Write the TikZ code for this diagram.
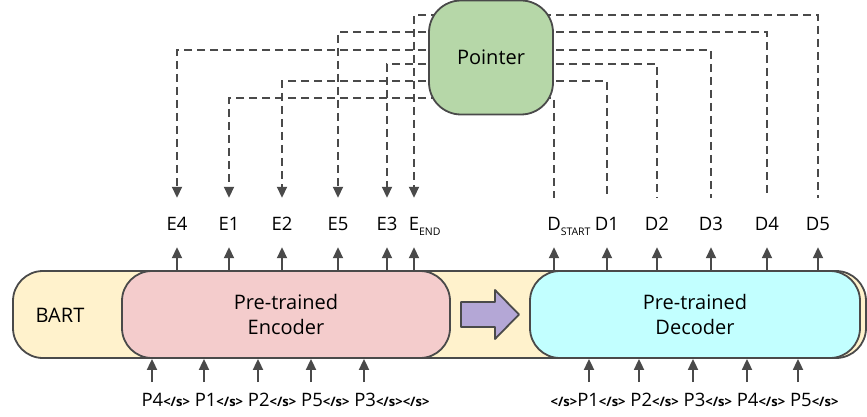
\documentclass[tikz,border=0pt]{standalone}
\usepackage{fontspec}
\setmainfont{Open Sans}
\usepackage{tikz}
\usetikzlibrary{positioning}
\usetikzlibrary{calc}
\usetikzlibrary{backgrounds}
\usetikzlibrary{arrows.meta}
\definecolor{bart-yellow}{HTML}{FFF2CC}
\definecolor{enc-pink}{HTML}{F4CCCC}
\definecolor{dec-cyan}{HTML}{C2FFFF}
\definecolor{ptr-green}{HTML}{B6D7A8}
\definecolor{shift-purple}{HTML}{B4A7D6}
\definecolor{line-gray}{HTML}{4A4A4A}
\newcommand{\lowtag}[1]{\rlap{\raisebox{-5pt}{\fontsize{10.5}{11}\selectfont #1}}}
\newcommand{\eostag}{{\fontsize{13}{13}\selectfont\bfseries </s>}}

\begin{document}
\begin{tikzpicture}[x=1pt, y=-1pt, font=\fontsize{20}{25}\selectfont,
  box/.style={draw=line-gray, line width=1.8pt, rounded corners=30pt, align=center, minimum height=87pt},
  text only/.style={inner sep=0pt, align=center},
  tag/.style={font=\fontsize{18.5}{20}\selectfont, text height=18.5pt, text depth=2.5pt, inner xsep=0pt, inner ysep=14pt, anchor=base},
  arr/.style={line-gray, line width=1.8pt, -{Triangle[length=11pt, width=10pt]}},
  ptr/.style={line-gray, line width=1.8pt, dash pattern=on 8pt off 5pt}]
\useasboundingbox (0,0) rectangle (867,417);
\node[box, fill=bart-yellow, minimum width=853pt] (bart) at (439.5, 314.5) {};
\node[text only] (bart-label) at (60, 315) {BART};
\node[box, fill=enc-pink, minimum width=328pt] (enc) at (286, 314.5) {Pre-trained\\Encoder};
\node[box, fill=dec-cyan, minimum width=330pt] (dec) at (695, 314.5) {Pre-trained\\Decoder};
\draw[line-gray, line width=1.8pt, fill=shift-purple, line join=round]
  (461,302) -- (495,302) -- (495,290) -- (519,314.5) -- (495,339) -- (495,327) -- (461,327) -- cycle;
\node[box, fill=ptr-green, minimum width=124pt, minimum height=114pt, rounded corners=32pt]
  (pointer) at (491, 57.5) {Pointer};
\foreach \x/\name/\tagtext in {
    177/e4/E4, 229/e1/E1, 282/e2/E2, 338/e5/E5, 387/e3/E3,
    414/eEND/E\lowtag{END}} {
  \node[tag] (\name) at (\x, 230.5) {\tagtext};
  \draw[arr] (\name |- enc.north) -- (\name);
}
\foreach \x/\name/\tagtext in {
    554/dS/D\lowtag{START}, 607/d1/D1, 657/d2/D2,
    711/d3/D3, 767/d4/D4, 818/d5/D5} {
  \node[tag] (\name) at (\x, 230.5) {\tagtext};
  \draw[arr] (\name |- dec.north) -- (\name);
}
\node[text only, anchor=base, font=\fontsize{18.5}{20}\selectfont]
  (enc-in) at (285.5, 406.5)
  {P4\eostag{} P1\eostag{} P2\eostag{} P5\eostag{} P3\eostag\eostag};
\node[text only, anchor=base, font=\fontsize{18.5}{20}\selectfont]
  (dec-in) at (694.5, 406.5)
  {\eostag P1\eostag{} P2\eostag{} P3\eostag{} P4\eostag{} P5\eostag};
\foreach \x [count=\i] in {152, 204, 258, 311, 364} {
  \coordinate (e-in\i) at (\x, 382);
  \draw[arr] (e-in\i) -- (e-in\i |- enc.south);
}
\foreach \x [count=\i] in {589, 639, 693, 747, 798} {
  \coordinate (d-in\i) at (\x, 382);
  \draw[arr] (d-in\i) -- (d-in\i |- dec.south);
}
\begin{scope}[on background layer]
\foreach \y/\src/\tgt in {15/eEND/d5, 32/e5/d4, 50/e4/d3, 64/e3/d2, 81/e2/d1, 98/e1/dS} {
  \coordinate (lvl) at (0, \y);
  \draw[ptr, -{Triangle[length=11pt, width=10pt]}] (pointer |- lvl) -| (\src.north);
  \draw[ptr] (pointer |- lvl) -| (\tgt.north);
}
\end{scope}
\end{tikzpicture}
\end{document}
